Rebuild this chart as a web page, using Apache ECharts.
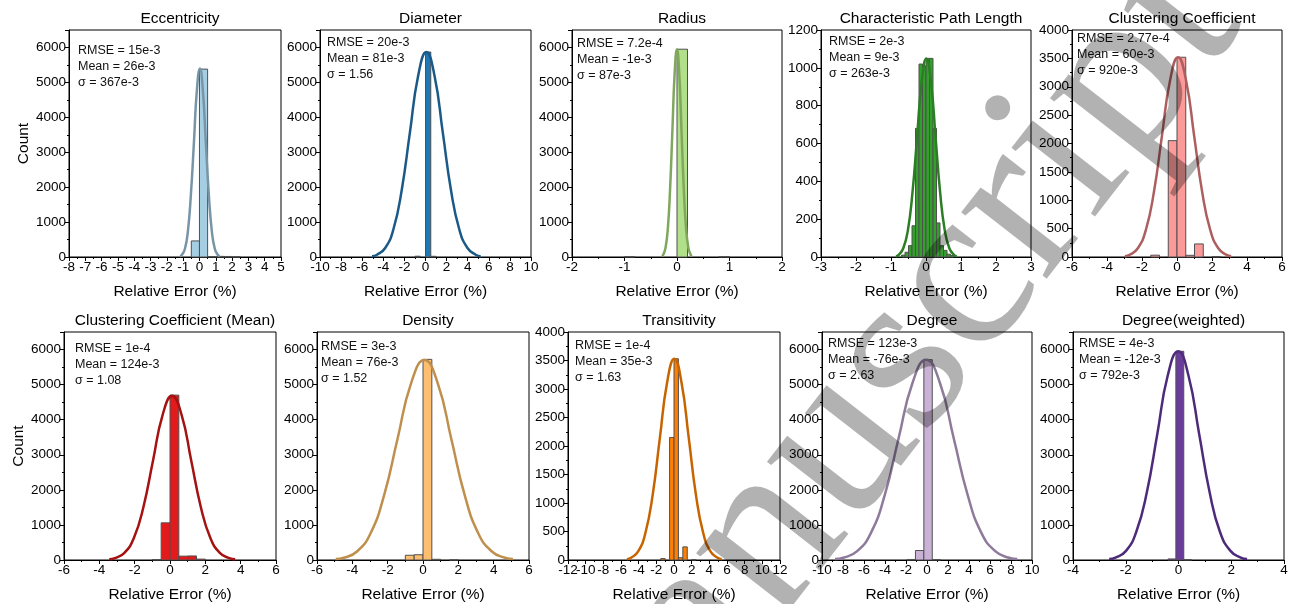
<!DOCTYPE html>
<html>
<head>
<meta charset="utf-8">
<script src="https://cdn.jsdelivr.net/npm/echarts@6/dist/echarts.min.js"></script>
<style>
  html, body { margin: 0; padding: 0; background: #fff; }
  #main { width: 1293px; height: 604px; }
</style>
</head>
<body>
<div id="main"></div>
<script>
"use strict";

// histogram bins: left edges + counts (bin width per panel)
var eccStarts = [-0.5, 0, 0.5, 1, 1.5, 2];
var eccCounts = [460, 5380, 12, 18, 15, 8];
var diaStarts = [-1, 0, 0.5];
var diaCounts = [22, 5870, 20];
var radStarts = [-1.0, 0, 0.8];
var radCounts = [10, 5950, 10];
var cplStarts = [-0.7, -0.6, -0.5, -0.4, -0.3, -0.2, -0.1, 0, 0.1, 0.2, 0.3, 0.4, 0.5, 0.6, 0.7];
var cplCounts = [10, 25, 60, 165, 680, 1020, 1010, 1050, 1050, 680, 180, 60, 35, 15, 8];
var ccStarts = [-1.5, -0.5, 0, 0.5, 1, 2];
var ccCounts = [32, 2050, 3520, 30, 230, 8];
var ccmStarts = [-1, -0.5, 0, 0.5, 1, 1.5];
var ccmCounts = [10, 1060, 4700, 110, 115, 25];
var denStarts = [-1, -0.5, 0, 0.5, 1.5];
var denCounts = [135, 150, 5720, 20, 5];
var traStarts = [-1.5, -0.5, 0, 0.5, 1, 2];
var traCounts = [25, 2150, 3530, 40, 230, 8];
var degStarts = [-1.9, -1.1, -0.3, 0.5];
var degCounts = [15, 270, 5710, 12];
var dgwStarts = [-0.4, -0.1, 0.2];
var dgwCounts = [30, 5950, 10];

// fitted normal curves
var eccCurveX = [-1.19, -1.08, -0.89, -0.71, -0.53, -0.34, -0.16, 0.03, 0.21, 0.39, 0.58, 0.76, 0.94, 1.13, 1.24];
var eccCurveY = [23, 60, 237, 731, 1753, 3275, 4766, 5400, 4766, 3275, 1753, 731, 237, 60, 23];
var diaCurveX = [-5.07, -4.60, -3.82, -3.04, -2.26, -1.48, -0.70, 0.08, 0.86, 1.64, 2.42, 3.20, 3.98, 4.76, 5.23];
var diaCurveY = [25, 65, 258, 794, 1906, 3560, 5180, 5870, 5180, 3560, 1906, 794, 258, 65, 25];
var radCurveX = [-0.288, -0.262, -0.219, -0.175, -0.132, -0.088, -0.045, -0.001, 0.043, 0.086, 0.130, 0.173, 0.217, 0.260, 0.286];
var radCurveY = [26, 66, 261, 805, 1932, 3609, 5251, 5950, 5251, 3609, 1932, 805, 261, 66, 26];
var cplCurveX = [-0.859, -0.780, -0.649, -0.517, -0.386, -0.254, -0.123, 0.009, 0.141, 0.272, 0.404, 0.535, 0.667, 0.798, 0.877];
var cplCurveY = [4.5, 11.7, 46, 142, 341, 637, 927, 1050, 927, 637, 341, 142, 46, 11.7, 4.5];
var ccCurveX = [-2.98, -2.70, -2.24, -1.78, -1.32, -0.86, -0.40, 0.06, 0.52, 0.98, 1.44, 1.90, 2.36, 2.82, 3.10];
var ccCurveY = [15, 39, 155, 476, 1143, 2135, 3106, 3520, 3106, 2135, 1143, 476, 155, 39, 15];
var ccmCurveX = [-3.44, -3.12, -2.58, -2.04, -1.50, -0.96, -0.42, 0.12, 0.66, 1.20, 1.74, 2.28, 2.82, 3.36, 3.69];
var ccmCurveY = [20, 52, 205, 633, 1520, 2838, 4130, 4680, 4130, 2838, 1520, 633, 205, 52, 20];
var denCurveX = [-4.94, -4.48, -3.72, -2.96, -2.20, -1.44, -0.68, 0.08, 0.84, 1.60, 2.36, 3.12, 3.88, 4.64, 5.09];
var denCurveY = [25, 63, 250, 771, 1851, 3457, 5030, 5700, 5030, 3457, 1851, 771, 250, 63, 25];
var traCurveX = [-5.34, -4.86, -4.04, -3.23, -2.41, -1.60, -0.78, 0.04, 0.85, 1.67, 2.48, 3.30, 4.11, 4.93, 5.41];
var traCurveY = [15, 39, 155, 478, 1146, 2141, 3115, 3530, 3115, 2141, 1146, 478, 155, 39, 15];
var degCurveX = [-8.76, -7.97, -6.65, -5.34, -4.02, -2.71, -1.39, -0.08, 1.24, 2.55, 3.87, 5.18, 6.50, 7.81, 8.60];
var degCurveY = [25, 63, 251, 773, 1854, 3463, 5039, 5710, 5039, 3463, 1854, 773, 251, 63, 25];
var dgwCurveX = [-2.63, -2.39, -1.99, -1.60, -1.20, -0.80, -0.41, -0.01, 0.38, 0.78, 1.18, 1.57, 1.97, 2.36, 2.60];
var dgwCurveY = [26, 66, 261, 805, 1932, 3609, 5251, 5950, 5251, 3609, 1932, 805, 261, 66, 26];

// stats text
var eccStats = ["RMSE = 15e-3", "Mean = 26e-3", "σ = 367e-3"];
var diaStats = ["RMSE = 20e-3", "Mean = 81e-3", "σ = 1.56"];
var radStats = ["RMSE = 7.2e-4", "Mean = -1e-3", "σ = 87e-3"];
var cplStats = ["RMSE = 2e-3", "Mean = 9e-3", "σ = 263e-3"];
var ccStats = ["RMSE = 2.77e-4", "Mean = 60e-3", "σ = 920e-3"];
var ccmStats = ["RMSE = 1e-4", "Mean = 124e-3", "σ = 1.08"];
var denStats = ["RMSE = 3e-3", "Mean = 76e-3", "σ = 1.52"];
var traStats = ["RMSE = 1e-4", "Mean = 35e-3", "σ = 1.63"];
var degStats = ["RMSE = 123e-3", "Mean = -76e-3", "σ = 2.63"];
var dgwStats = ["RMSE = 4e-3", "Mean = -12e-3", "σ = 792e-3"];

var panels = [
  { title: "Eccentricity", box: [69, 30, 212, 227], x: [-8, 5, 1], y: [6500, 1000], bw: 0.5,
    starts: eccStarts, counts: eccCounts, cx: eccCurveX, cy: eccCurveY, stats: eccStats,
    fill: "#a6cee3", line: "#7895a8", tx: 9, ty: 13, count: true },
  { title: "Diameter", box: [320, 30, 211, 227], x: [-10, 10, 2], y: [6500, 1000], bw: 0.5,
    starts: diaStarts, counts: diaCounts, cx: diaCurveX, cy: diaCurveY, stats: diaStats,
    fill: "#1f78b4", line: "#1b5a88", tx: 7, ty: 5 },
  { title: "Radius", box: [572, 30, 210, 227], x: [-2, 2, 1], y: [6500, 1000], bw: 0.2,
    starts: radStarts, counts: radCounts, cx: radCurveX, cy: radCurveY, stats: radStats,
    fill: "#b2df8a", line: "#7fa85c", tx: 5, ty: 6 },
  { title: "Characteristic Path Length", box: [821, 30, 210, 227], x: [-3, 3, 1], y: [1200, 200], bw: 0.1,
    starts: cplStarts, counts: cplCounts, cx: cplCurveX, cy: cplCurveY, stats: cplStats,
    fill: "#33a02c", line: "#2b7e24", tx: 8, ty: 4 },
  { title: "Clustering Coefficient", box: [1072, 30, 210, 227], x: [-6, 6, 2], y: [4000, 500], bw: 0.5,
    starts: ccStarts, counts: ccCounts, cx: ccCurveX, cy: ccCurveY, stats: ccStats,
    fill: "#fb9a99", line: "#ad5e5e", tx: 5, ty: 1 },
  { title: "Clustering Coefficient (Mean)", box: [64, 332, 212, 228], x: [-6, 6, 2], y: [6500, 1000], bw: 0.5,
    starts: ccmStarts, counts: ccmCounts, cx: ccmCurveX, cy: ccmCurveY, stats: ccmStats,
    fill: "#e31a1c", line: "#a51212", tx: 11, ty: 9, count: true },
  { title: "Density", box: [317, 332, 212, 228], x: [-6, 6, 2], y: [6500, 1000], bw: 0.5,
    starts: denStarts, counts: denCounts, cx: denCurveX, cy: denCurveY, stats: denStats,
    fill: "#fdbf6f", line: "#bf8f4e", tx: 4, ty: 7 },
  { title: "Transitivity", box: [568, 332, 212, 228], x: [-12, 12, 2], y: [4000, 500], bw: 0.5,
    starts: traStarts, counts: traCounts, cx: traCurveX, cy: traCurveY, stats: traStats,
    fill: "#ff7f00", line: "#c86400", tx: 7, ty: 6 },
  { title: "Degree", box: [822, 332, 210, 228], x: [-10, 10, 2], y: [6500, 1000], bw: 0.8,
    starts: degStarts, counts: degCounts, cx: degCurveX, cy: degCurveY, stats: degStats,
    fill: "#cab2d6", line: "#8e7b9c", tx: 6, ty: 4 },
  { title: "Degree(weighted)", box: [1073, 332, 211, 228], x: [-4, 4, 2], y: [6500, 1000], bw: 0.3,
    starts: dgwStarts, counts: dgwCounts, cx: dgwCurveX, cy: dgwCurveY, stats: dgwStats,
    fill: "#6a3d9a", line: "#4d2b7a", tx: 6, ty: 4 }
];

var FONT = "Liberation Sans, Arial, sans-serif";

function plain(v) { return String(v); }

var grids = [], xAxes = [], minAxes = [], yAxes = [], series = [], titles = [], graphics = [];

panels.forEach(function (p, i) {
  var b = p.box;
  var xmin = p.x[0];
  grids.push({ left: b[0], top: b[1], width: b[2], height: b[3], show: true,
    borderColor: "#000", borderWidth: 1, backgroundColor: "transparent" });

  // main x axis: all labels except the min one (so crowded labels are not dropped)
  xAxes.push({
    type: "value", gridIndex: i, position: "bottom", min: xmin, max: p.x[1], interval: p.x[2],
    name: "Relative Error (%)", nameLocation: "middle", nameGap: 27,
    nameTextStyle: { fontFamily: FONT, fontSize: 15.5, color: "#000" },
    axisLine: { onZero: false, lineStyle: { color: "#000", width: 1 } },
    axisTick: { inside: false, length: 4, lineStyle: { color: "#000" } },
    minorTick: { show: true, splitNumber: 2, length: 2, lineStyle: { color: "#000" } },
    axisLabel: { fontFamily: FONT, fontSize: 13.5, color: "#000", margin: 3,
      formatter: function (v) { return v === xmin ? "" : String(v); },
      hideOverlap: false, showMinLabel: true, showMaxLabel: true },
    splitLine: { show: false }
  });
  // overlay axis carrying only the min label
  minAxes.push({
    type: "value", gridIndex: i, position: "bottom", min: xmin, max: p.x[1], interval: p.x[2],
    axisLine: { show: false, onZero: false }, axisTick: { show: false }, minorTick: { show: false },
    axisLabel: { fontFamily: FONT, fontSize: 13.5, color: "#000", margin: 3,
      formatter: function (v) { return v === xmin ? String(v) : ""; },
      hideOverlap: false, showMinLabel: true, showMaxLabel: true },
    splitLine: { show: false }
  });

  yAxes.push({
    type: "value", gridIndex: i, min: 0, max: p.y[0], interval: p.y[1],
    name: p.count ? "Count" : "", nameLocation: "middle", nameGap: 34,
    nameTextStyle: { fontFamily: FONT, fontSize: 15.5, color: "#000" },
    axisLine: { show: true, onZero: false, lineStyle: { color: "#000", width: 1 } },
    axisTick: { show: true, inside: false, length: 4, lineStyle: { color: "#000" } },
    minorTick: { show: true, splitNumber: 2, length: 2, lineStyle: { color: "#000" } },
    axisLabel: { fontFamily: FONT, fontSize: 13.5, color: "#000", margin: 3, formatter: plain,
      showMaxLabel: p.y[0] % p.y[1] === 0 },
    splitLine: { show: false }
  });

  var bins = p.starts.map(function (s, k) { return [s, s + p.bw, p.counts[k]]; });
  series.push({
    type: "custom", xAxisIndex: i, yAxisIndex: i, data: bins,
    encode: { x: [0, 1], y: 2 },
    renderItem: (function (fill) {
      return function (params, api) {
        var tl = api.coord([api.value(0), api.value(2)]);
        var br = api.coord([api.value(1), 0]);
        return { type: "rect",
          shape: { x: tl[0], y: tl[1], width: br[0] - tl[0], height: br[1] - tl[1] },
          style: { fill: fill, stroke: "#505050", lineWidth: 1 } };
      };
    })(p.fill),
    z: 2
  });

  series.push({
    type: "line", xAxisIndex: i, yAxisIndex: i,
    data: p.cx.map(function (x, k) { return [x, p.cy[k]]; }),
    smooth: 0.5, showSymbol: false, symbol: "none",
    lineStyle: { color: p.line, width: 2.5 }, z: 3
  });

  titles.push({ text: p.title, left: b[0] + b[2] / 2, top: b[1] - 24, textAlign: "center",
    textStyle: { fontFamily: FONT, fontSize: 15.5, fontWeight: "normal", color: "#000" } });

  graphics.push({ type: "text", x: b[0] + p.tx, y: b[1] + p.ty, z: 10,
    style: { text: p.stats.join("\n"), font: "12.5px " + FONT, fill: "#111", lineHeight: 16 } });
});

// watermark
graphics.push({ type: "text", x: 866, y: 410, rotation: 0.91, z: 100,
  style: { text: "Manuscript", font: "236px 'Liberation Serif', serif", fill: "rgba(0,0,0,0.3)",
    textAlign: "center", textVerticalAlign: "middle" } });

var myChart = echarts.init(document.getElementById("main"));
var option = {
  animation: false,
  backgroundColor: "#fff",
  title: titles,
  grid: grids,
  xAxis: xAxes.concat(minAxes),
  yAxis: yAxes,
  series: series,
  graphic: graphics
};
option && myChart.setOption(option);
</script>
</body>
</html>
